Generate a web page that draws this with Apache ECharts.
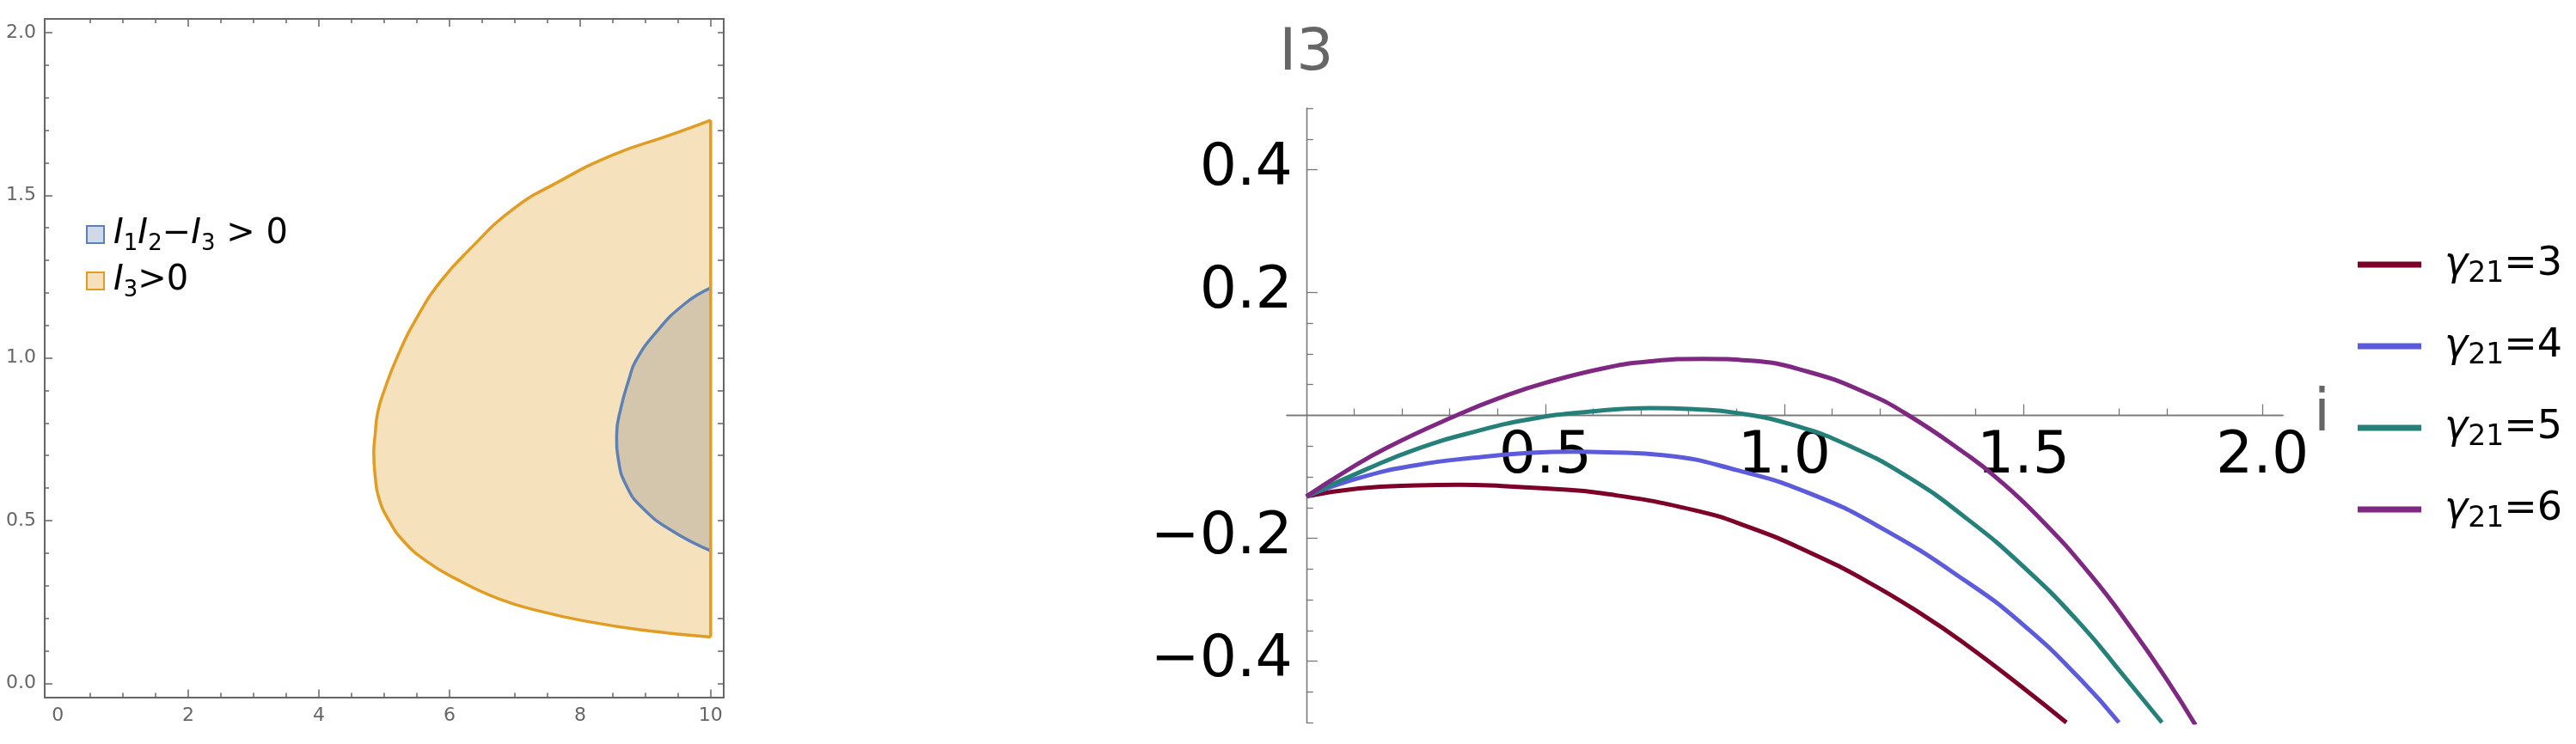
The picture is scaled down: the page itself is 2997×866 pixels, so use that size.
<!DOCTYPE html>
<html>
<head>
<meta charset="utf-8">
<script src="https://cdn.jsdelivr.net/npm/echarts@6/dist/echarts.min.js"></script>
<style>
html, body { margin: 0; padding: 0; background: #fff; }
#main { width: 2997px; height: 866px; }
</style>
</head>
<body>
<div id="main"></div>
<script>
// ---- left panel: region boundaries ----
var orangeX = [10.0, 9.38, 8.50, 7.62, 6.97, 6.31, 5.87, 5.52, 5.21, 4.99, 4.90, 4.86, 4.84, 4.86, 4.92, 5.08, 5.30, 5.65, 6.09, 6.75, 7.40, 8.06, 8.94, 10.0];
var orangeY = [1.731, 1.685, 1.624, 1.536, 1.457, 1.334, 1.237, 1.131, 1.008, 0.894, 0.832, 0.762, 0.709, 0.639, 0.568, 0.498, 0.436, 0.375, 0.322, 0.260, 0.221, 0.192, 0.164, 0.142];
var blueX = [10.0, 9.60, 9.16, 8.85, 8.75, 8.63, 8.56, 8.59, 8.72, 8.94, 9.38, 10.0];
var blueY = [1.215, 1.166, 1.078, 0.990, 0.935, 0.850, 0.762, 0.683, 0.603, 0.542, 0.472, 0.407];
var regionNames = ['I1I2−I3 > 0', 'I3>0'];

// left panel frame ticks
var leftXLabels = [0, 2, 4, 6, 8, 10];
var botXMajor = [2, 4, 6, 10];
var botXMinor = [0.5, 1, 1.5, 2.5, 3, 3.5, 4.5, 5, 5.5, 7, 7.5, 8.5, 9, 9.5];
var topXMajor = [2, 4, 6, 8, 10];
var topXMinor = [0.5, 1, 1.5, 2.5, 3, 3.5, 4.5, 5, 5.5, 6.5, 7, 7.5, 8.5, 9, 9.5];
var leftYMajor = [0, 0.5, 1, 1.5, 2];
var leftYMinor = [0.1, 0.2, 0.3, 0.4, 0.6, 0.7, 0.8, 0.9, 1.1, 1.2, 1.3, 1.4, 1.6, 1.7, 1.8, 1.9];
var rightYTicks = [0, 0.1, 0.2, 0.4, 0.5, 0.7, 0.8, 0.9, 1, 1.1, 1.2, 1.3, 1.4, 1.5, 1.6, 1.7, 1.8, 1.9, 2];

// ---- right panel: I3 against i for several gamma21 ----
var gammas = [3, 4, 5, 6];
var g3X = [0, 0.11, 0.23, 0.32, 0.41, 0.50, 0.62, 0.81, 0.93, 1.05, 1.17, 1.29, 1.38, 1.50, 1.59];
var g3Y = [-0.132, -0.119, -0.114, -0.113, -0.115, -0.119, -0.127, -0.154, -0.183, -0.222, -0.269, -0.325, -0.373, -0.444, -0.500];
var g4X = [0, 0.11, 0.23, 0.35, 0.47, 0.56, 0.63, 0.75, 0.90, 1.05, 1.20, 1.38, 1.50, 1.62, 1.70];
var g4Y = [-0.132, -0.102, -0.081, -0.069, -0.061, -0.059, -0.060, -0.065, -0.089, -0.126, -0.182, -0.270, -0.341, -0.430, -0.500];
var g5X = [0, 0.125, 0.23, 0.35, 0.47, 0.59, 0.72, 0.81, 0.90, 1.02, 1.14, 1.26, 1.38, 1.50, 1.62, 1.71, 1.79];
var g5Y = [-0.132, -0.088, -0.055, -0.027, -0.006, 0.006, 0.012, 0.010, 0.004, -0.016, -0.051, -0.101, -0.167, -0.246, -0.340, -0.424, -0.500];
var g6X = [0, 0.08, 0.17, 0.32, 0.41, 0.50, 0.63, 0.72, 0.83, 0.93, 1.05, 1.17, 1.26, 1.38, 1.44, 1.53, 1.64, 1.73, 1.80, 1.86];
var g6Y = [-0.132, -0.092, -0.052, 0.002, 0.030, 0.053, 0.078, 0.088, 0.092, 0.089, 0.071, 0.037, 0.000, -0.063, -0.099, -0.164, -0.259, -0.351, -0.430, -0.504];

// right panel axis ticks
var rXMajor = [0.5, 1, 1.5, 2];
var rXMinor = [0.1, 0.2, 0.3, 0.4, 0.6, 0.7, 0.8, 0.9, 1.1, 1.2, 1.4, 1.7, 1.8];
var rYMajor = [-0.4, -0.2, 0.2, 0.4];
var rYMinor = [-0.5, -0.45, -0.35, -0.3, -0.25, -0.15, -0.1, -0.05, 0.05, 0.1, 0.15, 0.45, 0.5];

var curveX = [g3X, g4X, g5X, g6X];
var curveY = [g3Y, g4Y, g5Y, g6Y];
var curveColors = ['#7d0028', '#5b5bdc', '#26807a', '#7e2882'];

var gray = '#666';

// right panel box: x in [-0.041, 2.043], y in [-0.5, 0.5]
var rLeft = 1497, rTop = 126, rWidth = 1159, rHeight = 715;
var rXMin = -0.041, rXMax = 2.043, rYMin = -0.5, rYMax = 0.5;

function pairs(xs, ys) {
    return xs.map(function (x, i) { return [x, ys[i]]; });
}

function polygonItem(xs, ys, fill) {
    return function (params, api) {
        if (params.dataIndex !== 0) return;
        var pts = xs.map(function (x, i) { return api.coord([x, ys[i]]); });
        return { type: 'polygon', shape: { points: pts }, style: { fill: fill } };
    };
}

function frameAxis(dim, pos, ticks, len, labels) {
    var ax = {
        gridIndex: 0,
        type: 'value',
        position: pos,
        axisLine: { show: false, onZero: false },
        axisTick: { inside: true, length: len, customValues: ticks, lineStyle: { color: gray, width: 1.5 } },
        axisLabel: { show: false },
        splitLine: { show: false }
    };
    if (dim === 'x') { ax.min = -0.2; ax.max = 10.2; }
    else { ax.min = -0.044; ax.max = 2.042; }
    if (labels) {
        ax.axisLabel = {
            customValues: labels, color: gray, fontSize: 22, margin: 10,
            formatter: function (v) { return dim === 'x' ? String(v) : v.toFixed(1); }
        };
    }
    return ax;
}

function fmtR(v) {
    return (v < 0 ? '−' : '') + Math.abs(v).toFixed(1);
}

// axes of the right panel cross at the origin: shift them in from the box edge
function rightAxis(dim, ticks, len, labels, name) {
    var ax = {
        gridIndex: 1,
        type: 'value',
        axisLine: { onZero: false, lineStyle: { color: '#777', width: 1.3 } },
        axisTick: { inside: true, length: len, customValues: ticks, lineStyle: { color: '#777', width: 1.3 } },
        axisLabel: { show: false },
        splitLine: { show: false }
    };
    if (dim === 'x') {
        ax.min = rXMin; ax.max = rXMax;
        ax.position = 'bottom';
        ax.offset = -rHeight * (0 - rYMin) / (rYMax - rYMin);
    } else {
        ax.min = rYMin; ax.max = rYMax;
        ax.position = 'left';
        ax.offset = -rWidth * (0 - rXMin) / (rXMax - rXMin);
    }
    if (labels) {
        ax.axisLabel = {
            customValues: labels, color: '#000', fontSize: 68,
            margin: dim === 'x' ? 15 : 16, formatter: fmtR
        };
    }
    if (name) {
        ax.name = name;
        ax.nameLocation = 'end';
        ax.nameGap = dim === 'x' ? 30 : 29;
        ax.nameTextStyle = { color: gray, fontSize: 68 };
    }
    return ax;
}

var myChart = echarts.init(document.getElementById('main'));

var series = [{
    name: regionNames[0],
    type: 'custom',
    xAxisIndex: 0, yAxisIndex: 0,
    z: 1,
    itemStyle: { color: '#cfd9e9' },
    renderItem: polygonItem(blueX, blueY, 'rgba(94,129,181,0.3)'),
    data: pairs(blueX, blueY)
}, {
    name: regionNames[1],
    type: 'custom',
    xAxisIndex: 0, yAxisIndex: 0,
    z: 2,
    itemStyle: { color: '#f6e0bb' },
    renderItem: polygonItem(orangeX, orangeY, 'rgba(225,156,36,0.3)'),
    data: pairs(orangeX, orangeY)
}, {
    type: 'line',
    xAxisIndex: 0, yAxisIndex: 0,
    z: 3,
    symbol: 'none',
    smooth: 0.5,
    lineStyle: { color: '#5e81b5', width: 3.5 },
    data: pairs(blueX, blueY)
}, {
    type: 'line',
    xAxisIndex: 0, yAxisIndex: 0,
    z: 4,
    symbol: 'none',
    smooth: 0.5,
    lineStyle: { color: '#e19c24', width: 3.5 },
    data: pairs(orangeX, orangeY)
}, {
    // straight edge closing the orange region at the right
    type: 'line',
    xAxisIndex: 0, yAxisIndex: 0,
    z: 4,
    symbol: 'none',
    lineStyle: { color: '#e19c24', width: 3.5 },
    data: [[orangeX[orangeX.length - 1], orangeY[orangeY.length - 1]], [orangeX[0], orangeY[0]]]
}];

gammas.forEach(function (g, k) {
    series.push({
        name: 'γ21=' + g,
        type: 'line',
        xAxisIndex: 4, yAxisIndex: 3,
        symbol: 'none',
        smooth: 0.5,
        itemStyle: { color: curveColors[k] },
        lineStyle: { color: curveColors[k], width: 5 },
        data: pairs(curveX[k], curveY[k])
    });
});

var option = {
    animation: false,
    backgroundColor: '#fff',
    textStyle: { fontFamily: 'DejaVu Sans' },
    grid: [{
        left: 52, top: 22, width: 790, height: 790,
        show: true, borderColor: gray, borderWidth: 2
    }, {
        left: rLeft, top: rTop, width: rWidth, height: rHeight
    }],
    legend: [{
        data: [
            { name: regionNames[0], itemStyle: { color: '#cfd9e9', borderColor: '#5e81b5', borderWidth: 2 } },
            { name: regionNames[1], itemStyle: { color: '#f6e0bb', borderColor: '#e19c24', borderWidth: 2 } }
        ],
        orient: 'vertical',
        left: 100, top: 253,
        padding: 0,
        icon: 'rect',
        itemWidth: 20, itemHeight: 20, itemGap: 10,
        selectedMode: false,
        formatter: function (name) {
            return name === regionNames[0]
                ? '{i|I}{s|1}{i|I}{s|2}{n|−}{i|I}{s|3}{n| > 0}'
                : '{i|I}{s|3}{n|>0}';
        },
        textStyle: {
            padding: [0, 0, 0, 6],
            rich: {
                i: { fontStyle: 'italic', fontSize: 40, lineHeight: 48, color: '#000', fontFamily: 'DejaVu Sans' },
                s: { fontSize: 26, lineHeight: 26, verticalAlign: 'bottom', color: '#000', fontFamily: 'DejaVu Sans' },
                n: { fontSize: 40, lineHeight: 48, color: '#000', fontFamily: 'DejaVu Sans' }
            }
        }
    }, {
        data: gammas.map(function (g) { return 'γ21=' + g; }),
        orient: 'vertical',
        left: 2743, top: 285,
        padding: 0,
        icon: 'rect',
        itemWidth: 74, itemHeight: 7, itemGap: 44,
        selectedMode: false,
        formatter: function (name) {
            return '{g|γ}{s|21}{n|=' + name.split('=')[1] + '}';
        },
        textStyle: {
            padding: [0, 0, 0, 22],
            rich: {
                g: { fontStyle: 'italic', fontSize: 46, lineHeight: 56, color: '#000', fontFamily: 'DejaVu Sans' },
                s: { fontSize: 33, lineHeight: 33, verticalAlign: 'bottom', color: '#000', fontFamily: 'DejaVu Sans' },
                n: { fontSize: 46, lineHeight: 56, color: '#000', fontFamily: 'DejaVu Sans' }
            }
        }
    }],
    xAxis: [
        frameAxis('x', 'bottom', botXMajor, 9.5, leftXLabels),
        frameAxis('x', 'bottom', botXMinor, 5.5),
        frameAxis('x', 'top', topXMajor, 9),
        frameAxis('x', 'top', topXMinor, 5),
        rightAxis('x', rXMajor, 13, rXMajor, 'i'),
        rightAxis('x', rXMinor, 8)
    ],
    yAxis: [
        frameAxis('y', 'left', leftYMajor, 9, leftYMajor),
        frameAxis('y', 'left', leftYMinor, 5),
        frameAxis('y', 'right', rightYTicks, 7),
        rightAxis('y', rYMajor, 13, rYMajor, 'I3'),
        rightAxis('y', rYMinor, 8)
    ],
    series: series
};

myChart.setOption(option);
</script>
</body>
</html>
